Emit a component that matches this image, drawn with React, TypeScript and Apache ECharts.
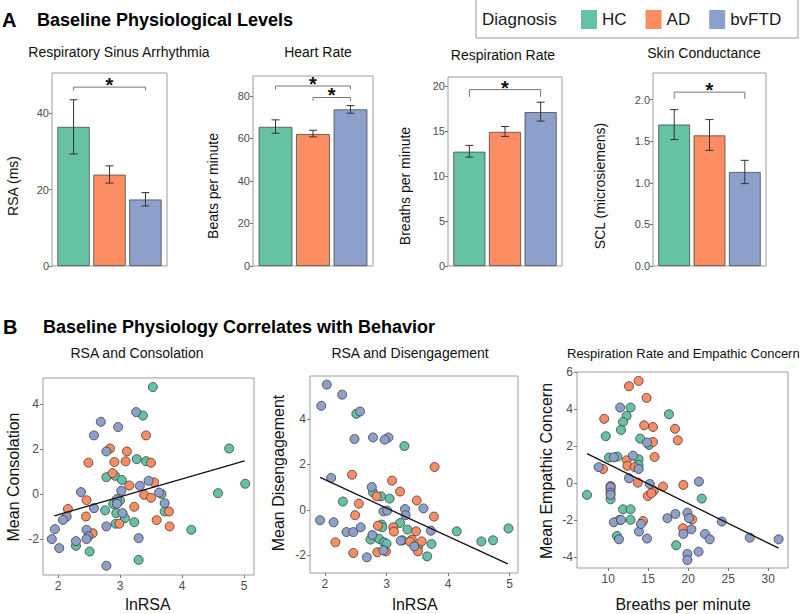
import React, { useEffect, useRef } from 'react';
import * as echarts from 'echarts';

// ---------- data ----------
const groups = ['HC', 'AD', 'bvFTD'];
const groupColors = ['#66c2a5', '#fc8d62', '#8da0cb'];

// Panel A: means and error bar limits (HC, AD, bvFTD)
const rsaMean = [36.4, 23.9, 17.4];
const rsaLow = [29.3, 21.7, 15.7];
const rsaHigh = [43.5, 26.2, 19.2];
const rsaTicks = [0, 20, 40];
const rsaBrackets = [[1, 3, 46.8, 45.9]];

const hrMean = [65.4, 62.0, 73.6];
const hrLow = [62.4, 60.7, 71.8];
const hrHigh = [68.7, 63.8, 75.4];
const hrTicks = [0, 20, 40, 60, 80];
const hrBrackets = [[1, 3, 84.6, 83.0], [2, 3, 79.2, 77.6]];

const respMean = [12.7, 14.9, 17.1];
const respLow = [12.1, 14.4, 16.1];
const respHigh = [13.4, 15.5, 18.2];
const respTicks = [0, 5, 10, 15, 20];
const respBrackets = [[1, 3, 19.6, 18.8]];

const sclMean = [1.70, 1.57, 1.13];
const sclLow = [1.52, 1.39, 0.99];
const sclHigh = [1.88, 1.76, 1.27];
const sclTicks = [0, 0.5, 1, 1.5, 2];
const sclBrackets = [[1, 3, 2.09, 2.01]];

// Panel B: scatter points [x, y]
const consolationHC = [[3.53,4.74],[3.37,3.48],[4.76,2.02],[5.02,0.46],[4.58,0.04],[3.27,1.55],[3.42,1.46],[2.78,0.75],[2.92,0.81],[3.03,0.63],[3.67,0.01],[3.72,-0.77],[2.76,-0.72],[2.89,-0.43],[3.00,-0.28],[2.94,-0.84],[3.08,-1.06],[2.93,-1.31],[3.23,-1.24],[4.15,-1.58],[2.29,-2.29],[2.51,-2.54],[3.30,-2.91]];
const consolationAD = [[3.42,2.60],[2.84,2.02],[3.11,1.89],[3.09,1.45],[2.91,1.42],[2.49,1.39],[3.50,1.39],[2.88,0.93],[3.55,0.52],[3.15,0.38],[3.39,-0.03],[3.50,-0.16],[2.46,-0.27],[2.16,-0.66],[3.23,-0.56],[3.79,-0.77],[2.45,-0.99],[3.59,-1.15],[2.99,-1.31],[3.80,-1.43],[2.56,-1.73]];
const consolationFTD = [[3.26,3.63],[2.69,3.20],[2.97,2.97],[2.58,2.60],[2.78,1.89],[3.46,0.59],[3.32,0.37],[3.02,0.15],[2.37,0.09],[3.63,0.07],[2.95,-0.22],[2.95,-0.43],[3.72,-0.40],[2.58,-0.62],[3.04,-0.84],[2.14,-0.99],[2.08,-1.14],[2.78,-1.43],[1.95,-1.55],[2.46,-1.58],[2.49,-1.87],[2.46,-1.99],[3.30,-1.95],[2.29,-2.08],[1.90,-1.99],[2.02,-2.39],[2.78,-3.17]];
const consolationFit = [[1.94,-0.96],[5.01,1.47]];

const disengagementHC = [[2.51,4.23],[3.29,2.81],[2.78,0.78],[2.91,0.60],[3.05,0.50],[2.29,0.37],[3.22,-0.57],[2.92,-0.64],[2.93,-0.76],[3.34,-0.86],[4.14,-0.94],[4.98,-0.81],[2.74,-1.30],[2.88,-1.27],[2.96,-1.42],[3.00,-1.48],[3.26,-1.33],[4.54,-1.38],[4.73,-1.33],[3.73,-1.49],[3.51,-1.63],[3.66,-2.04]];
const disengagementAD = [[3.78,1.89],[2.44,1.55],[3.09,1.29],[3.22,0.81],[2.84,0.60],[3.49,0.42],[2.55,0.28],[3.77,-0.29],[2.49,-0.23],[2.86,-0.69],[3.11,-0.76],[3.12,-0.95],[3.48,-0.94],[3.41,-1.30],[3.38,-1.39],[3.57,-1.38],[2.17,-1.42],[2.46,-1.89],[2.85,-1.86],[2.99,-1.82],[3.51,-1.82]];
const disengagementFTD = [[2.03,5.51],[2.28,5.07],[1.94,4.58],[2.57,4.33],[2.48,3.12],[2.78,3.19],[3.03,3.19],[2.97,3.09],[2.10,1.41],[2.76,1.01],[3.30,0.04],[3.60,0.07],[2.95,-0.06],[3.01,-0.03],[3.31,-0.23],[1.92,-0.45],[2.14,-0.54],[2.35,-0.97],[2.46,-0.97],[2.58,-0.76],[3.72,-0.91],[2.77,-1.10],[3.23,-1.35],[3.45,-1.60],[2.95,-1.77],[2.68,-2.08]];
const disengagementFit = [[1.92,1.43],[4.97,-2.37]];

const empathyHC = [[12.8,4.10],[12.3,3.65],[11.85,3.32],[11.6,2.89],[17.6,3.74],[9.7,2.55],[14.0,2.42],[15.1,2.08],[10.1,1.40],[11.15,1.45],[13.8,1.31],[13.8,1.0],[7.35,-0.62],[10.3,-0.32],[10.3,-0.86],[11.85,-1.40],[12.8,-1.40],[11.4,-1.97],[12.8,-1.97],[11.1,-2.84],[21.7,-0.82],[18.5,-3.34]];
const empathyAD = [[13.8,5.54],[12.6,5.25],[14.8,4.62],[9.5,3.49],[14.5,3.14],[15.6,3.05],[18.35,2.95],[18.7,2.33],[15.6,2.24],[15.8,1.43],[12.3,1.25],[12.4,0.95],[13.3,0.88],[9.35,0.78],[10.3,-0.14],[13.7,0.04],[16.85,-0.17],[19.4,-0.08],[15.7,-0.39],[14.95,-0.68],[15.4,-0.53],[14.35,-2.03],[19.35,-2.42],[20.5,-1.94]];
const empathyFTD = [[11.5,4.10],[14.85,2.21],[13.1,1.50],[10.7,1.41],[8.8,0.88],[13.8,0.78],[12.6,0.28],[15.2,-0.03],[10.3,-0.20],[10.3,-0.50],[10.3,-0.62],[21.35,0.10],[10.7,-2.10],[11.6,-1.97],[11.35,-3.02],[13.85,-2.60],[14.1,-2.19],[14.85,-2.98],[17.4,-1.88],[18.4,-1.65],[19.9,-1.58],[20.1,-1.88],[20.4,-2.48],[19.4,-2.73],[22.1,-2.73],[22.7,-3.02],[21.3,-3.69],[19.9,-3.81],[19.9,-4.14],[24.2,-2.06],[27.7,-2.93],[31.3,-3.02]];
const empathyFit = [[7.35,1.61],[31.3,-3.50]];

const lnRsaTicks = [2, 3, 4, 5];
const consolationTicks = [-2, 0, 2, 4];
const disengagementTicks = [-2, 0, 2, 4];
const breathsTicks = [10, 15, 20, 25, 30];
const empathyTicks = [-4, -2, 0, 2, 4, 6];

// ---------- layout / style ----------
const FONT = 'Liberation Sans, Arial, Helvetica, sans-serif';
const BOX = '#9c9c9c';
const TICKTXT = '#4d4d4d';

const barPanels = [
  { title: 'Respiratory Sinus Arrhythmia', ylabel: 'RSA (ms)', mean: rsaMean, low: rsaLow, high: rsaHigh, ticks: rsaTicks, brackets: rsaBrackets, yMax: 50.5, dec: 0,
    grid: { left: 52, top: 73, width: 115, height: 193 }, titleX: 119, titleY: 52, ylabelX: 13 },
  { title: 'Heart Rate', ylabel: 'Beats per minute', mean: hrMean, low: hrLow, high: hrHigh, ticks: hrTicks, brackets: hrBrackets, yMax: 89.3, dec: 0,
    grid: { left: 253, top: 76, width: 120, height: 190 }, titleX: 318, titleY: 52, ylabelX: 213 },
  { title: 'Respiration Rate', ylabel: 'Breaths per minute', mean: respMean, low: respLow, high: respHigh, ticks: respTicks, brackets: respBrackets, yMax: 21.0, dec: 0,
    grid: { left: 448, top: 77, width: 114, height: 189 }, titleX: 503, titleY: 55, ylabelX: 405 },
  { title: 'Skin Conductance', ylabel: 'SCL (microsiemens)', mean: sclMean, low: sclLow, high: sclHigh, ticks: sclTicks, brackets: sclBrackets, yMax: 2.32, dec: 1,
    grid: { left: 653, top: 73, width: 113, height: 193 }, titleX: 704, titleY: 53, ylabelX: 600 },
];

const scatterPanels = [
  { title: 'RSA and Consolation', xlabel: 'lnRSA', ylabel: 'Mean Consolation', sets: [consolationHC, consolationAD, consolationFTD], fit: consolationFit,
    xMin: 1.758, xMax: 5.161, yMin: -3.58, yMax: 5.14, xTicks: lnRsaTicks, yTicks: consolationTicks,
    grid: { left: 43, top: 378, width: 211, height: 197 }, titleX: 137, titleSize: 14, titleAlign: 'center', xlabelX: 148, ylabelX: 13, ylabelY: 477 },
  { title: 'RSA and Disengagement', xlabel: 'lnRSA', ylabel: 'Mean Disengagement', sets: [disengagementHC, disengagementAD, disengagementFTD], fit: disengagementFit,
    xMin: 1.757, xMax: 5.135, yMin: -2.77, yMax: 5.89, xTicks: lnRsaTicks, yTicks: disengagementTicks,
    grid: { left: 310, top: 376, width: 208, height: 197 }, titleX: 410, titleSize: 14, titleAlign: 'center', xlabelX: 415, ylabelX: 278, ylabelY: 473 },
  { title: 'Respiration Rate and Empathic Concern', xlabel: 'Breaths per minute', ylabel: 'Mean Empathic Concern', sets: [empathyHC, empathyAD, empathyFTD], fit: empathyFit,
    xMin: 6.1, xMax: 32.48, yMin: -4.57, yMax: 6.02, xTicks: breathsTicks, yTicks: empathyTicks,
    grid: { left: 577, top: 372, width: 211, height: 196 }, titleX: 567, titleSize: 13, titleAlign: 'left', xlabelX: 683, ylabelX: 546, ylabelY: 471 },
];

const errorBarRender = (_params: any, api: any) => {
  const x = api.value(0);
  const lo = api.coord([x, api.value(1)]);
  const hi = api.coord([x, api.value(2)]);
  const hw = 4;
  const style = { stroke: '#333333', lineWidth: 1 };
  return {
    type: 'group',
    children: [
      { type: 'line', shape: { x1: lo[0], y1: lo[1], x2: hi[0], y2: hi[1] }, style },
      { type: 'line', shape: { x1: lo[0] - hw, y1: lo[1], x2: lo[0] + hw, y2: lo[1] }, style },
      { type: 'line', shape: { x1: hi[0] - hw, y1: hi[1], x2: hi[0] + hw, y2: hi[1] }, style },
    ],
  };
};

const bracketRender = (_params: any, api: any) => {
  const p1 = api.coord([api.value(0), api.value(2)]);
  const p2 = api.coord([api.value(1), api.value(2)]);
  const b1 = api.coord([api.value(0), api.value(3)]);
  const b2 = api.coord([api.value(1), api.value(3)]);
  return {
    type: 'group',
    children: [
      { type: 'polyline', shape: { points: [b1, p1, p2, b2] }, style: { stroke: '#777777', lineWidth: 1, fill: 'none' } },
      { type: 'text', x: (p1[0] + p2[0]) / 2, y: p1[1] - 2,
        style: { text: '*', fontSize: 20, fontWeight: 'bold', fill: '#111111', textAlign: 'center', textVerticalAlign: 'middle', fontFamily: FONT } },
    ],
  };
};

function buildOption() {
  const grid: any[] = [];
  const xAxis: any[] = [];
  const yAxis: any[] = [];
  const series: any[] = [];
  const graphic: any[] = [];

  const txt = (text: string, x: number, y: number, size: number, opts: any = {}) => ({
    type: 'text', x, y, rotation: opts.rotation || 0,
    style: { text, fontSize: size, fontWeight: opts.bold ? 'bold' : 'normal', fill: opts.color || '#111111',
      textAlign: opts.align || 'center', textVerticalAlign: 'middle', fontFamily: FONT },
  });

  barPanels.forEach((p, i) => {
    grid.push({ ...p.grid, show: true, borderColor: BOX, borderWidth: 1, backgroundColor: 'rgba(0,0,0,0)' });
    xAxis.push({ type: 'value', gridIndex: i, min: 0.4, max: 3.6, show: false, axisLine: { onZero: false } });
    yAxis.push({
      type: 'value', gridIndex: i, min: 0, max: p.yMax,
      axisLine: { show: false, onZero: false },
      axisTick: { show: true, length: 3, lineStyle: { color: '#777777' }, customValues: p.ticks },
      axisLabel: { customValues: p.ticks, fontSize: 11, color: TICKTXT, margin: 3, fontFamily: FONT,
        formatter: (v: number) => v.toFixed(p.dec) },
      splitLine: { show: false },
    });
    const barWidth = (p.grid.width / 3.2) * 0.9;
    series.push({
      type: 'bar', name: p.title, xAxisIndex: i, yAxisIndex: i, barWidth, z: 2,
      itemStyle: { borderColor: '#4a4a4a', borderWidth: 0.8 },
      data: p.mean.map((v, k) => ({ value: [k + 1, v], itemStyle: { color: groupColors[k] } })),
    });
    series.push({
      type: 'custom', name: p.title + ' error', xAxisIndex: i, yAxisIndex: i, z: 3,
      renderItem: errorBarRender, encode: { x: 0, y: [1, 2] },
      data: p.mean.map((_v, k) => [k + 1, p.low[k], p.high[k]]),
    });
    series.push({
      type: 'custom', name: p.title + ' significance', xAxisIndex: i, yAxisIndex: i, z: 3,
      renderItem: bracketRender, encode: { x: [0, 1], y: [2, 3] },
      data: p.brackets,
    });
    graphic.push(txt(p.title, p.titleX, p.titleY, 14));
    graphic.push(txt(p.ylabel, p.ylabelX, 186, 14, { rotation: Math.PI / 2 }));
  });

  scatterPanels.forEach((p, j) => {
    const i = barPanels.length + j;
    grid.push({ ...p.grid, show: true, borderColor: BOX, borderWidth: 1, backgroundColor: 'rgba(0,0,0,0)' });
    xAxis.push({
      type: 'value', gridIndex: i, min: p.xMin, max: p.xMax, position: 'bottom',
      axisLine: { show: false, onZero: false },
      axisTick: { show: true, length: 3, lineStyle: { color: '#777777' }, customValues: p.xTicks },
      axisLabel: { customValues: p.xTicks, fontSize: 12, color: TICKTXT, margin: 5, fontFamily: FONT },
      splitLine: { show: false },
    });
    yAxis.push({
      type: 'value', gridIndex: i, min: p.yMin, max: p.yMax, position: 'left',
      axisLine: { show: false, onZero: false },
      axisTick: { show: true, length: 3, lineStyle: { color: '#777777' }, customValues: p.yTicks },
      axisLabel: { customValues: p.yTicks, fontSize: 12, color: TICKTXT, margin: 4, fontFamily: FONT },
      splitLine: { show: false },
    });
    p.sets.forEach((pts, g) => {
      series.push({
        type: 'scatter', name: groups[g], xAxisIndex: i, yAxisIndex: i, symbolSize: 9, z: 3,
        itemStyle: { color: groupColors[g], borderColor: '#3a3a3a', borderWidth: 0.8, opacity: 1 },
        data: pts,
      });
    });
    series.push({
      type: 'line', name: p.title + ' fit', xAxisIndex: i, yAxisIndex: i, symbol: 'none', z: 4,
      lineStyle: { color: '#111111', width: 1.3 }, data: p.fit,
    });
    graphic.push(txt(p.title, p.titleX, 353, p.titleSize, { align: p.titleAlign }));
    graphic.push(txt(p.xlabel, p.xlabelX, 604, 16));
    graphic.push(txt(p.ylabel, p.ylabelX, p.ylabelY, 16, { rotation: Math.PI / 2 }));
  });

  graphic.push(txt('A', 2, 20, 20, { bold: true, align: 'left', color: '#000000' }));
  graphic.push(txt('Baseline Physiological Levels', 37, 20, 18, { bold: true, align: 'left', color: '#000000' }));
  graphic.push(txt('B', 3, 327, 20, { bold: true, align: 'left', color: '#000000' }));
  graphic.push(txt('Baseline Physiology Correlates with Behavior', 43, 327, 18, { bold: true, align: 'left', color: '#000000' }));
  graphic.push({ type: 'rect', shape: { x: 476, y: -1, width: 322, height: 39 }, style: { fill: 'none', stroke: '#9a9a9a', lineWidth: 1 } });
  graphic.push(txt('Diagnosis', 482, 19, 17, { align: 'left', color: '#1a1a1a' }));

  return {
    animation: false,
    textStyle: { fontFamily: FONT },
    legend: {
      data: groups, left: 581, top: 10, icon: 'rect', itemWidth: 16, itemHeight: 19, itemGap: 19,
      selectedMode: false, padding: 0,
      textStyle: { fontSize: 17, color: '#1a1a1a', fontFamily: FONT },
      itemStyle: { borderWidth: 0 },
    },
    grid, xAxis, yAxis, series, graphic,
  };
}

export default function App() {
  const ref = useRef<HTMLDivElement>(null);
  useEffect(() => {
    if (!ref.current) return;
    const chart = echarts.init(ref.current, undefined, { renderer: 'svg' });
    chart.setOption(buildOption() as any);
    return () => chart.dispose();
  }, []);
  return (
    <div
      ref={ref}
      style={{ position: 'fixed', left: 0, top: 0, width: 800, height: 614, background: '#ffffff' }}
    />
  );
}
